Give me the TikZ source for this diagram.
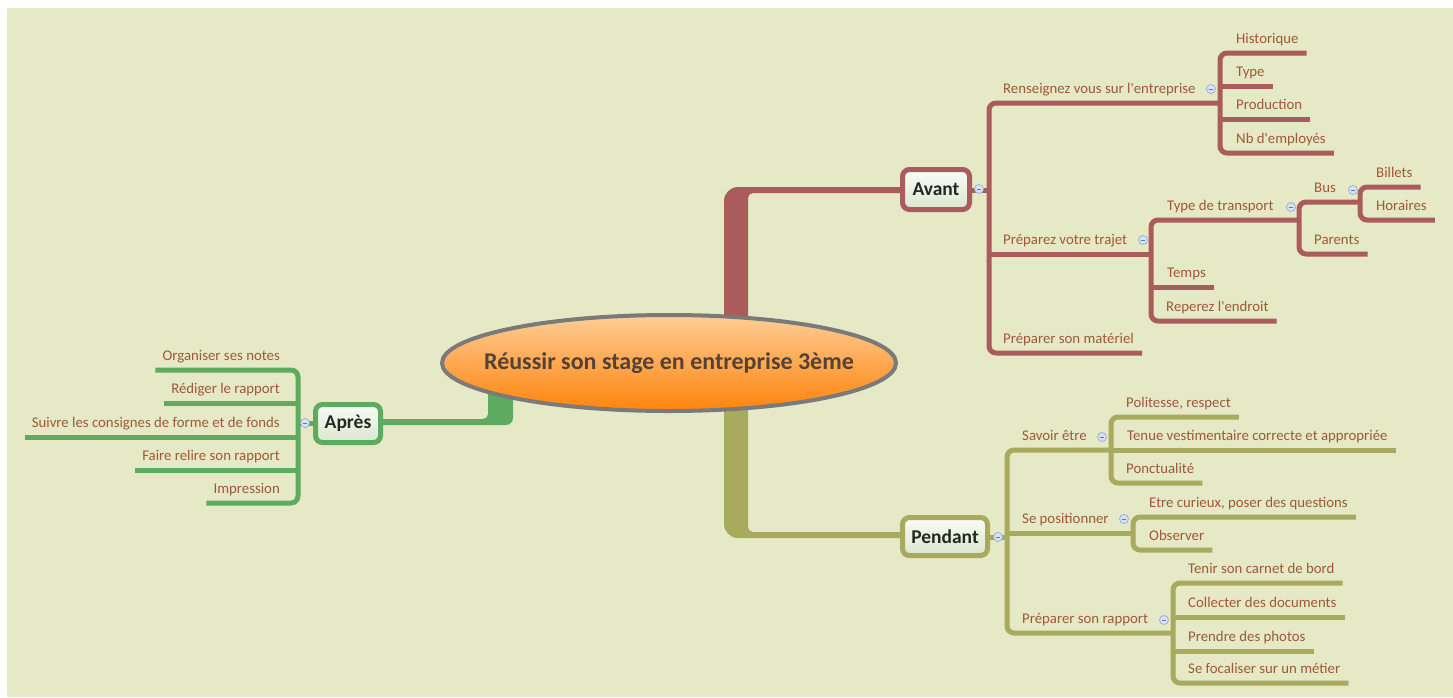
\documentclass[tikz,border=0pt]{standalone}
\usepackage{fontspec}
\setmainfont{Carlito}
\usetikzlibrary{shapes.geometric,calc}
\definecolor{bg}{RGB}{229,233,197}
\definecolor{cRed}{RGB}{170,92,92}
\definecolor{cOli}{RGB}{168,170,94}
\definecolor{cGrn}{RGB}{94,170,94}
\definecolor{txt}{RGB}{160,88,58}
\definecolor{dark}{RGB}{35,40,35}
\definecolor{ctrtxt}{RGB}{82,66,56}
\definecolor{icf}{RGB}{214,226,246}
\definecolor{icd}{RGB}{150,172,218}
\begin{document}
\begin{tikzpicture}[x=1pt,y=-1pt,
  lbl/.style={font=\fontsize{14.8}{16}\selectfont, text=txt, inner sep=0pt},
  topic/.style={draw=#1, line width=5pt, rounded corners=7pt,
    top color={rgb,255:red,250;green,252;blue,246}, bottom color={rgb,255:red,216;green,231;blue,206},
    font=\fontsize{19.5}{22}\selectfont\bfseries, text=dark, inner sep=0pt},
  br/.style={line width=5pt, line join=round, rounded corners=7pt},
  icon/.style={circle, inner sep=0pt, minimum size=9pt, fill=icf, draw=icd, line width=0.7pt,
    path picture={\draw[icd!70!black, line width=0.8pt] ([xshift=-2.3pt]path picture bounding box.center) -- ([xshift=2.3pt]path picture bounding box.center);}}
]
\useasboundingbox (0,0) rectangle (1453,697);
\fill[white] (0,0) rectangle (1453,697);
\fill[bg] (7,8) rectangle (1453,697);

% topic boxes
\node[topic=cRed, minimum width=67pt, minimum height=40pt] (avant) at (936,189.5) {Avant};
\node[topic=cOli, minimum width=85pt, minimum height=38pt] (pendant) at (945,536.5) {Pendant};
\node[topic=cGrn, minimum width=65pt, minimum height=38pt] (apres) at (348,423.5) {Après};

% trunks (drawn below the central ellipse)
\fill[cRed] (724,363) -- (724,201) .. controls (724,193.3) and (730.3,187) .. (738,187)
  -- (avant.west |- 0,187) -- (avant.west |- 0,193) -- (753,193)
  .. controls (750.2,193) and (748,195.2) .. (748,198) -- (748,363) -- cycle;
\fill[cOli] (724,363) -- (724,524) .. controls (724,531.7) and (730.3,538) .. (738,538)
  -- (pendant.west |- 0,538) -- (pendant.west |- 0,532) -- (753,532)
  .. controls (750.2,532) and (748,529.8) .. (748,527) -- (748,363) -- cycle;
\fill[cGrn] (513,363) -- (513,418) .. controls (513,421.9) and (509.9,425) .. (506,425)
  -- (apres.east |- 0,425) -- (apres.east |- 0,419) -- (483,419)
  .. controls (485.8,419) and (488,416.8) .. (488,414) -- (488,363) -- cycle;

% central topic
\node[ellipse, draw={rgb,255:red,122;green,122;blue,122}, line width=4pt,
  minimum width=454pt, minimum height=96pt, inner sep=0pt,
  top color={rgb,255:red,253;green,206;blue,150}, bottom color={rgb,255:red,255;green,132;blue,12},
  middle color={rgb,255:red,254;green,168;blue,80}] (ctr) at (669,363) {};
\node[font=\fontsize{24}{28}\selectfont\bfseries, text=ctrtxt, inner sep=0pt] (ctrlbl) at (ctr.center)
  {Réussir son stage en entreprise 3ème};

% ---------------- Avant ----------------
\node[lbl, anchor=base west] (ren) at (1003,93) {Renseignez vous sur l\textquotesingle entreprise};
\node[lbl, anchor=base west] (hist) at (1236,43) {Historique};
\node[lbl, anchor=base west] (type) at (1236,76) {Type};
\node[lbl, anchor=base west] (prod) at (1236,109) {Production};
\node[lbl, anchor=base west] (nb) at (1236,143) {Nb d\textquotesingle employés};
\node[lbl, anchor=base west] (ptraj) at (1003,244) {Préparez votre trajet};
\node[lbl, anchor=base west] (ttr) at (1167,210) {Type de transport};
\node[lbl, anchor=base west] (bus) at (1314,192) {Bus};
\node[lbl, anchor=base west] (bil) at (1376,177) {Billets};
\node[lbl, anchor=base west] (hor) at (1376,210) {Horaires};
\node[lbl, anchor=base west] (par) at (1314,244) {Parents};
\node[lbl, anchor=base west] (tmp) at (1167,277) {Temps};
\node[lbl, anchor=base west] (rep) at (1166,311) {Reperez l\textquotesingle endroit};
\node[lbl, anchor=base west] (mat) at (1003,343) {Préparer son matériel};

\begin{scope}[draw=cRed]
\draw[br] (avant.east |- 0,190) -- (989,190);
\draw[br] (1220,103) -- (989,103) -- (989,353) -- ($(mat.base east)+(8,10)$);
\draw[br] (989,254) -- (1151,254);
\draw[br] ($(hist.base east)+(8,10)$) -- (1220,53) -- (1220,153) -- ($(nb.base east)+(8,10)$);
\draw[br] (1220,86) -- ($(type.base east)+(8,10)$);
\draw[br] (1220,119) -- ($(prod.base east)+(8,10)$);
\draw[br] (1299,220) -- (1151,220) -- (1151,321) -- ($(rep.base east)+(8,10)$);
\draw[br] (1151,287) -- ($(tmp.base east)+(8,10)$);
\draw[br] (1360,202) -- (1299,202) -- (1299,254) -- ($(par.base east)+(8,10)$);
\draw[br] ($(bil.base east)+(8,10)$) -- (1360,187) -- (1360,220) -- ($(hor.base east)+(8,10)$);
\end{scope}

% ---------------- Pendant ----------------
\node[lbl, anchor=base west] (sav) at (1022,440) {Savoir être};
\node[lbl, anchor=base west] (pol) at (1126,407) {Politesse, respect};
\node[lbl, anchor=base west] (ten) at (1127,440) {Tenue vestimentaire correcte et appropriée};
\node[lbl, anchor=base west] (pon) at (1126,473) {Ponctualité};
\node[lbl, anchor=base west] (pos) at (1022,523) {Se positionner};
\node[lbl, anchor=base west] (cur) at (1149,507) {Etre curieux, poser des questions};
\node[lbl, anchor=base west] (obs) at (1149,540) {Observer};
\node[lbl, anchor=base west] (rap) at (1022,623) {Préparer son rapport};
\node[lbl, anchor=base west] (car) at (1188,573) {Tenir son carnet de bord};
\node[lbl, anchor=base west] (col) at (1188,607) {Collecter des documents};
\node[lbl, anchor=base west] (pho) at (1188,641) {Prendre des photos};
\node[lbl, anchor=base west] (foc) at (1188,673) {Se focaliser sur un métier};

\begin{scope}[draw=cOli]
\draw[br] (pendant.east |- 0,537) -- (1007,537);
\draw[br] (1111,450) -- (1007,450) -- (1007,633) -- (1173,633);
\draw[br] (1007,533) -- (1133,533);
\draw[br] ($(pol.base east)+(8,10)$) -- (1111,417) -- (1111,483) -- ($(pon.base east)+(8,10)$);
\draw[br] (1111,450) -- ($(ten.base east)+(8,10)$);
\draw[br] ($(cur.base east)+(8,10)$) -- (1133,517) -- (1133,550) -- ($(obs.base east)+(8,10)$);
\draw[br] ($(car.base east)+(8,10)$) -- (1173,583) -- (1173,683) -- ($(foc.base east)+(8,10)$);
\draw[br] (1173,617) -- ($(col.base east)+(8,10)$);
\draw[br] (1173,651) -- ($(pho.base east)+(8,10)$);
\end{scope}

% ---------------- Après ----------------
\node[lbl, anchor=base east] (org) at (280,360) {Organiser ses notes};
\node[lbl, anchor=base east] (red) at (280,393) {Rédiger le rapport};
\node[lbl, anchor=base east] (sui) at (280,427) {Suivre les consignes de forme et de fonds};
\node[lbl, anchor=base east] (fai) at (280,460) {Faire relire son rapport};
\node[lbl, anchor=base east] (imp) at (280,493) {Impression};

\begin{scope}[draw=cGrn]
\draw[br] (apres.west |- 0,423) -- (298,423);
\draw[br] ($(org.base west)+(-7,10)$) -- (298,370) -- (298,503) -- ($(imp.base west)+(-7,10)$);
\draw[br] (298,403) -- ($(red.base west)+(-7,10)$);
\draw[br] (298,437) -- ($(sui.base west)+(-7,10)$);
\draw[br] (298,470) -- ($(fai.base west)+(-7,10)$);
\end{scope}

% collapse icons
\node[icon] (iav) at (979,189) {};
\node[icon] (ipe) at (998,537) {};
\node[icon] (iap) at (305,423) {};
\node[icon] (iren) at (1211,89) {};
\node[icon] (iptr) at (1143,240) {};
\node[icon] (ittr) at (1291,207) {};
\node[icon] (ibus) at (1353,190) {};
\node[icon] (isav) at (1102,437) {};
\node[icon] (ipos) at (1124,519) {};
\node[icon] (irap) at (1164,620) {};
\end{tikzpicture}
\end{document}
